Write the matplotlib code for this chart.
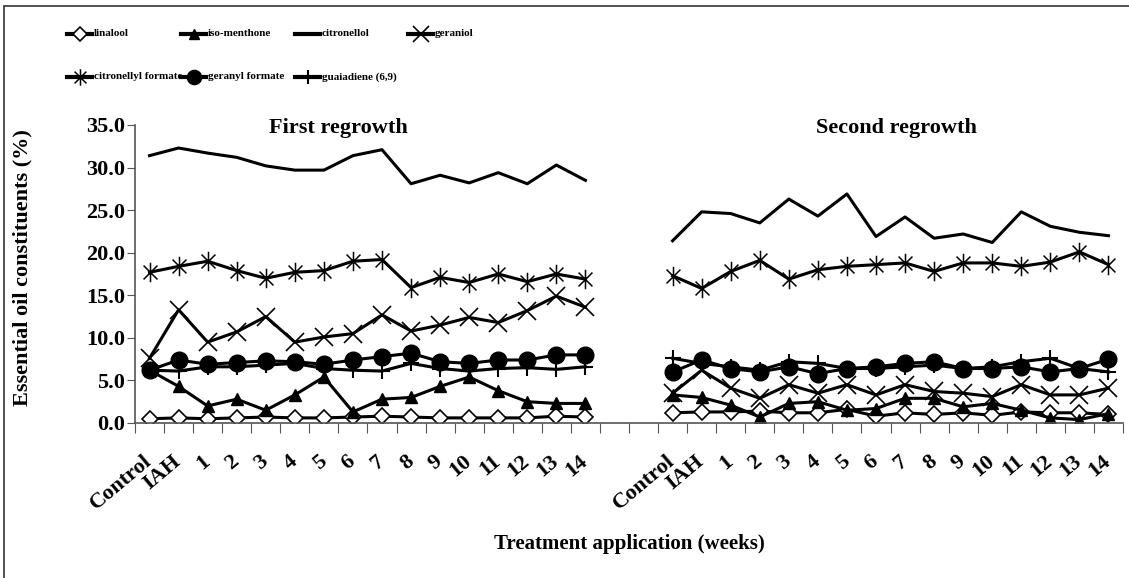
"""
Essential oil constituents over treatment weeks, first vs second regrowth.
Single axis, two category groups with a two-slot gap (Excel-style layout).
"""

import numpy as np
import matplotlib.pyplot as plt
from matplotlib.lines import Line2D
from matplotlib.path import Path
from matplotlib.patches import Rectangle

# ---------------------------------------------------------------------------
# DATA
# ---------------------------------------------------------------------------

CATEGORIES = ["Control", "IAH"] + [str(w) for w in range(1, 15)]

# first regrowth
linalool_1     = [0.5, 0.6, 0.5, 0.6, 0.7, 0.6, 0.6, 0.7, 0.8, 0.7, 0.6, 0.6, 0.6, 0.6, 0.8, 0.7]
isomenthone_1  = [6.2, 4.3, 2.0, 2.8, 1.5, 3.3, 5.4, 1.3, 2.8, 3.0, 4.3, 5.4, 3.8, 2.5, 2.3, 2.3]
citronellol_1  = [31.4, 32.3, 31.7, 31.2, 30.2, 29.7, 29.7, 31.4, 32.1, 28.1, 29.1, 28.2, 29.4, 28.1, 30.3, 28.5]
geraniol_1     = [7.6, 13.3, 9.5, 10.7, 12.5, 9.5, 10.1, 10.5, 12.7, 10.8, 11.5, 12.4, 11.8, 13.2, 14.9, 13.6]
citronellyl_1  = [17.7, 18.4, 19.0, 17.9, 17.0, 17.7, 17.9, 19.0, 19.2, 15.9, 17.1, 16.5, 17.5, 16.6, 17.5, 16.9]
geranyl_1      = [6.2, 7.4, 6.9, 7.1, 7.3, 7.2, 6.9, 7.4, 7.8, 8.2, 7.2, 7.0, 7.4, 7.4, 8.0, 8.0]
guaiadiene_1   = [6.2, 6.1, 6.6, 6.6, 6.8, 7.0, 6.4, 6.2, 6.1, 7.0, 6.4, 6.1, 6.4, 6.5, 6.3, 6.6]

# second regrowth
linalool_2     = [1.2, 1.3, 1.3, 1.4, 1.2, 1.2, 1.6, 0.8, 1.2, 1.0, 1.2, 0.9, 1.3, 1.2, 1.2, 1.0]
isomenthone_2  = [3.3, 3.0, 2.1, 0.7, 2.3, 2.5, 1.5, 1.7, 2.9, 2.9, 1.9, 2.3, 1.5, 0.6, 0.4, 1.1]
citronellol_2  = [21.4, 24.8, 24.6, 23.5, 26.3, 24.3, 26.9, 21.9, 24.2, 21.7, 22.2, 21.2, 24.8, 23.1, 22.4, 22.0]
geraniol_2     = [3.5, 6.2, 4.1, 2.9, 4.5, 3.5, 4.5, 3.3, 4.5, 3.7, 3.5, 3.1, 4.5, 3.3, 3.3, 4.1]
citronellyl_2  = [17.3, 15.8, 17.8, 19.1, 16.9, 18.0, 18.4, 18.6, 18.8, 17.8, 18.8, 18.8, 18.4, 18.9, 20.1, 18.6]
geranyl_2      = [6.0, 7.4, 6.4, 6.0, 6.6, 5.8, 6.4, 6.6, 7.0, 7.2, 6.4, 6.4, 6.6, 6.0, 6.4, 7.5]
guaiadiene_2   = [7.6, 7.0, 6.6, 6.2, 7.2, 7.0, 6.4, 6.4, 6.6, 6.8, 6.4, 6.6, 7.2, 7.6, 6.4, 6.0]

SERIES_NAMES = ["linalool", "iso-menthone", "citronellol", "geraniol",
                "citronellyl formate", "geranyl formate", "guaiadiene (6,9)"]
FIRST = [linalool_1, isomenthone_1, citronellol_1, geraniol_1,
         citronellyl_1, geranyl_1, guaiadiene_1]
SECOND = [linalool_2, isomenthone_2, citronellol_2, geraniol_2,
          citronellyl_2, geranyl_2, guaiadiene_2]

# ---------------------------------------------------------------------------
# STYLE
# ---------------------------------------------------------------------------

W, H = 1129, 578
GAP = 2  # empty category slots between the two groups

# Excel "star" marker: an x with a vertical bar through it
STAR = Path([(-1, -1), (1, 1), (-1, 1), (1, -1), (0, -1.4), (0, 1.4)],
            [Path.MOVETO, Path.LINETO] * 3)

STYLES = {
    "linalool":            dict(marker="D", ms=8.5, mfc="white", mew=1.2),
    "iso-menthone":        dict(marker="^", ms=9, mfc="black", mew=1),
    "citronellol":         dict(marker="None"),
    "geraniol":            dict(marker="x", ms=13, mfc="none", mew=1.2),
    "citronellyl formate": dict(marker=STAR, ms=14, mfc="none", mew=1.1),
    "geranyl formate":     dict(marker="o", ms=12, mfc="black", mew=1),
    "guaiadiene (6,9)":    dict(marker="+", ms=12, mfc="none", mew=1.5),
}

plt.rcParams["font.family"] = ["Liberation Serif", "DejaVu Serif"]
plt.rcParams["font.weight"] = "bold"
plt.rcParams["axes.labelweight"] = "bold"

# ---------------------------------------------------------------------------
# PLOT
# ---------------------------------------------------------------------------

fig = plt.figure(figsize=(W / 100, H / 100), dpi=100)
ax = fig.add_axes([135 / W, 1 - 423 / H, 988 / W, 298 / H])

n = len(CATEGORIES)
x1 = np.arange(n)
x2 = np.arange(n + GAP, 2 * n + GAP)

for name, first, second in zip(SERIES_NAMES, FIRST, SECOND):
    st = STYLES[name]
    for xs, ys in ((x1, first), (x2, second)):
        ax.plot(xs, ys, color="black", lw=2.2, marker=st["marker"],
                ms=st.get("ms", 0), mfc=st.get("mfc", "black"),
                mec="black", mew=st.get("mew", 1))

ax.set_xlim(-0.5, 2 * n + GAP - 0.5)
ax.set_ylim(0, 35)
ax.set_yticks(np.arange(0, 36, 5))
ax.set_yticklabels([f"{v:.1f}" for v in np.arange(0, 36, 5)], fontsize=16)

# tick marks on category boundaries, labels on category centres
ax.set_xticks(np.arange(-0.5, 2 * n + GAP, 1.0))
ax.set_xticklabels([])
ax.set_xticks(np.concatenate([x1, x2]), minor=True)
ax.set_xticklabels(CATEGORIES * 2, minor=True, fontsize=16, rotation=40,
                   ha="right", va="center", rotation_mode="anchor")
ax.tick_params(axis="x", which="major", length=7, color="#555555")
ax.tick_params(axis="x", which="minor", length=0, pad=26)
ax.tick_params(axis="y", length=6, color="#555555", pad=1)

for side in ("top", "right"):
    ax.spines[side].set_visible(False)
for side in ("left", "bottom"):
    ax.spines[side].set_color("#555555")
    ax.spines[side].set_linewidth(1.2)

ax.text(6.5, 34.6, "First regrowth", ha="center", va="center", fontsize=16)
ax.text(n + GAP + 7.7, 34.6, "Second regrowth", ha="center", va="center", fontsize=16)

ax.set_ylabel("Essential oil constituents (%)", fontsize=16)
ax.yaxis.set_label_coords(-0.104, 0.52)
ax.set_xlabel("Treatment application (weeks)", fontsize=15, va="center")
ax.xaxis.set_label_coords(0.5, -0.405)

# legend laid out like the Excel one: fixed-width columns, row-major
col_x = [67, 181, 295, 408]
row_y = [34, 77]
for i, name in enumerate(SERIES_NAMES):
    row, col = divmod(i, 4)
    x0, y0 = col_x[col], row_y[row]
    st = STYLES[name]
    fig.add_artist(Line2D([x0 / W, (x0 + 12.5) / W, (x0 + 25) / W], [1 - y0 / H] * 3,
                          transform=fig.transFigure, color="black", lw=3,
                          marker=st["marker"], markevery=[1], ms=st.get("ms", 0) * 0.85,
                          mfc=st.get("mfc", "black"), mec="black", mew=st.get("mew", 1)))
    fig.text((x0 + 27) / W, 1 - y0 / H, name, ha="left", va="center", fontsize=8)

# outer chart border (only top/left fall inside the image)
fig.add_artist(Rectangle((4 / W, -0.1), 1.2, 1.1 - 6 / H, transform=fig.transFigure,
                         fill=False, edgecolor="#333333", lw=1.2))

fig.savefig("out.png", dpi=100)
